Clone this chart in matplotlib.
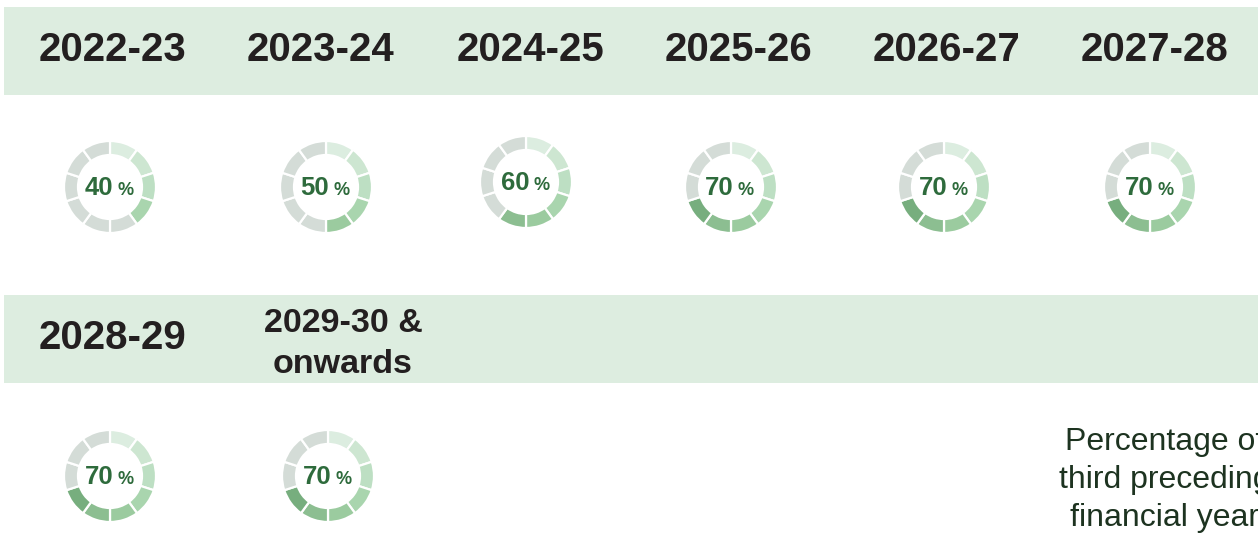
import matplotlib.pyplot as plt
from matplotlib.patches import Rectangle, Wedge

# data
years = ["2022-23", "2023-24", "2024-25", "2025-26", "2026-27", "2027-28",
         "2028-29", "2029-30 &\nonwards"]
pct = [40, 50, 60, 70, 70, 70, 70, 70]
caption = ["Percentage of", "third preceding", "financial year"]

# segment colours, clockwise from 12 o'clock
seg_greens = ["#dcede0", "#cde6d1", "#bddfc3", "#a9d5ae", "#9bcb9f",
              "#8cbe91", "#77ae7e", "#6aa371", "#5f9866", "#548d5b"]
seg_gray = "#d4dcd7"
band_col = "#ddede0"
head_col = "#231f20"
pct_col = "#2e6b3c"

W, H = 1258, 533


def Y(py):
    # pixel row (from top) -> axes y
    return H - py


fig = plt.figure(figsize=(W / 100, H / 100), dpi=100)
ax = fig.add_axes([0, 0, 1, 1])
ax.set_xlim(0, W)
ax.set_ylim(0, H)
ax.axis("off")

# header bands
for top in (7, 295):
    ax.add_patch(Rectangle((4, Y(top + 88)), W - 4, 88, color=band_col, lw=0))

# layout
head_x = [113, 321, 530, 738, 946, 1155, 113, 343]
donut_x = [110, 326, 526, 731, 944, 1150, 110, 328]
donut_y = [187, 187, 182, 187, 187, 187, 476, 476]
r_out, ring = 46, 14

for i, (yr, p) in enumerate(zip(years, pct)):
    # header text
    if "\n" in yr:
        l1, l2 = yr.split("\n")
        ax.text(head_x[i], Y(332), l1, ha="center", va="baseline", fontsize=24.5,
                fontweight="bold", family="Liberation Sans", color=head_col)
        ax.text(head_x[i], Y(373), l2, ha="center", va="baseline", fontsize=24.5,
                fontweight="bold", family="Liberation Sans", color=head_col)
    else:
        base = 61 if i < 6 else 349
        ax.text(head_x[i], Y(base), yr, ha="center", va="baseline", fontsize=29,
                fontweight="bold", family="Liberation Sans", color=head_col)

    # donut: 10 segments of 10 %
    cx, cy = donut_x[i], Y(donut_y[i])
    n_fill = p // 10
    for s in range(10):
        col = seg_greens[s] if s < n_fill else seg_gray
        ax.add_patch(Wedge((cx, cy), r_out, 90 - 36 * (s + 1), 90 - 36 * s,
                           width=ring, facecolor=col, edgecolor="white", lw=1.6))

    ax.text(cx + 3, cy - 8, str(p), ha="right", va="baseline", fontsize=18.5,
            fontweight="bold", family="Liberation Sans", color=pct_col)
    ax.text(cx + 7, cy - 8, "%", ha="left", va="baseline", fontsize=13,
            fontweight="bold", family="Liberation Sans", color=pct_col)

# caption at bottom right (runs off the edge like the reference)
for j, line in enumerate(caption):
    ax.text(1165, Y(450 + 38 * j), line, ha="center", va="baseline", fontsize=23,
            family="Liberation Sans", color="#1d3320")

fig.savefig("out.png", dpi=100)
